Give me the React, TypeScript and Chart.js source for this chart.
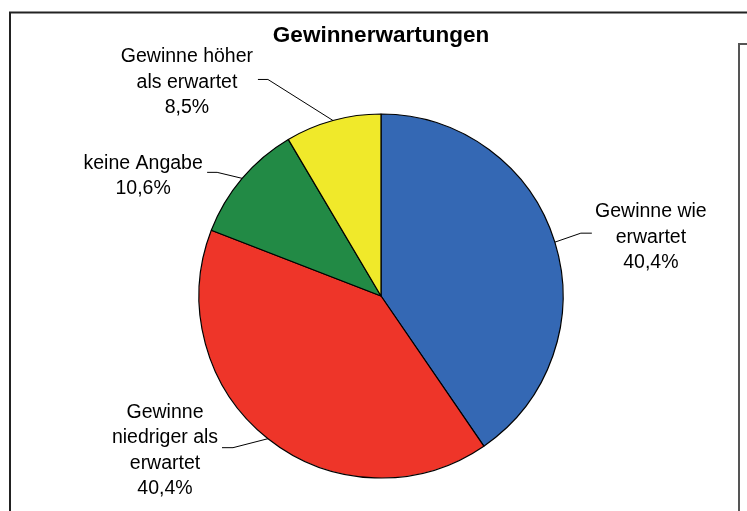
import React, { useEffect, useRef } from "react";
import { Chart, registerables } from "chart.js";

Chart.register(...registerables);

const categories = [
  "Gewinne wie erwartet",
  "Gewinne niedriger als erwartet",
  "keine Angabe",
  "Gewinne höher als erwartet",
];
const values = [40.4, 40.4, 10.6, 8.5];
const labelLines = [
  ["Gewinne wie", "erwartet"],
  ["Gewinne", "niedriger als", "erwartet"],
  ["keine Angabe"],
  ["Gewinne höher", "als erwartet"],
];
const colors = ["#3468B4", "#EE3529", "#228A45", "#F0E92A"];
const titleText = "Gewinnerwartungen";

// label placement relative to each slice's outer edge point at its mid-angle
const labelLayout = [
  { elbow: [26, -9], end: [37, -9], text: [96, -5] },
  { elbow: [-35, 9], end: [-46, 9], text: [-103, 12] },
  { elbow: [-25, -6], end: [-35, -6], text: [-99, -2] },
  { elbow: [-65, -41], end: [-75, -41], text: [-146, -38] },
];

const FONT = '"Liberation Sans", Arial, Helvetica, sans-serif';

const fmt = (v: number) => v.toFixed(1).replace(".", ",") + "%";

const decorPlugin = {
  id: "decor",
  beforeDraw(chart: any) {
    const ctx = chart.ctx;
    ctx.save();
    ctx.fillStyle = "#ffffff";
    ctx.fillRect(0, 0, chart.width, chart.height);
    // outer chart frame
    ctx.strokeStyle = "#222222";
    ctx.lineWidth = 2;
    ctx.strokeRect(10, 12.5, 900, 700);
    // (empty) legend box at right
    ctx.strokeStyle = "#555555";
    ctx.lineWidth = 2;
    ctx.strokeRect(739, 44, 200, 700);
    ctx.restore();
  },
  afterDatasetsDraw(chart: any) {
    const ctx = chart.ctx;
    const meta = chart.getDatasetMeta(0);
    ctx.save();
    meta.data.forEach((arc: any, i: number) => {
      const { x, y, startAngle, endAngle, outerRadius } = arc.getProps(
        ["x", "y", "startAngle", "endAngle", "outerRadius"],
        true
      );
      const mid = (startAngle + endAngle) / 2;
      const ex = x + Math.cos(mid) * outerRadius;
      const ey = y + Math.sin(mid) * outerRadius;
      const lay = labelLayout[i];
      ctx.strokeStyle = "#000000";
      ctx.lineWidth = 1;
      ctx.beginPath();
      ctx.moveTo(ex, ey);
      ctx.lineTo(ex + lay.elbow[0], ey + lay.elbow[1]);
      ctx.lineTo(ex + lay.end[0], ey + lay.end[1]);
      ctx.stroke();

      const lines = [...labelLines[i], fmt(values[i])];
      const lh = 25.5;
      const cx = ex + lay.text[0];
      const cy = ey + lay.text[1];
      ctx.fillStyle = "#000000";
      ctx.font = `19.5px ${FONT}`;
      ctx.textAlign = "center";
      ctx.textBaseline = "middle";
      lines.forEach((t, j) => {
        ctx.fillText(t, cx, cy + (j - (lines.length - 1) / 2) * lh);
      });
    });
    ctx.restore();
  },
};

export default function App() {
  const ref = useRef<HTMLCanvasElement | null>(null);

  useEffect(() => {
    if (!ref.current) return;
    const chart = new Chart(ref.current, {
      type: "pie",
      data: {
        labels: categories,
        datasets: [
          {
            data: values,
            backgroundColor: colors,
            borderColor: "#000000",
            borderWidth: 1.2,
          },
        ],
      },
      options: {
        responsive: false,
        animation: false,
        devicePixelRatio: 1,
        radius: 182,
        layout: { padding: { top: 10, left: 150, right: 135, bottom: 33 } },
        plugins: {
          legend: { display: false },
          tooltip: { enabled: false },
          title: {
            display: true,
            text: titleText,
            color: "#000000",
            font: { family: FONT, size: 22.5, weight: "bold" },
            padding: { top: 12.5, bottom: 64.5 },
          },
        },
      } as any,
      plugins: [decorPlugin],
    });
    return () => chart.destroy();
  }, []);

  return (
    <div style={{ position: "fixed", left: 0, top: 0, width: 747, height: 511, background: "#fff" }}>
      <canvas ref={ref} width={747} height={511} style={{ display: "block" }} />
    </div>
  );
}
